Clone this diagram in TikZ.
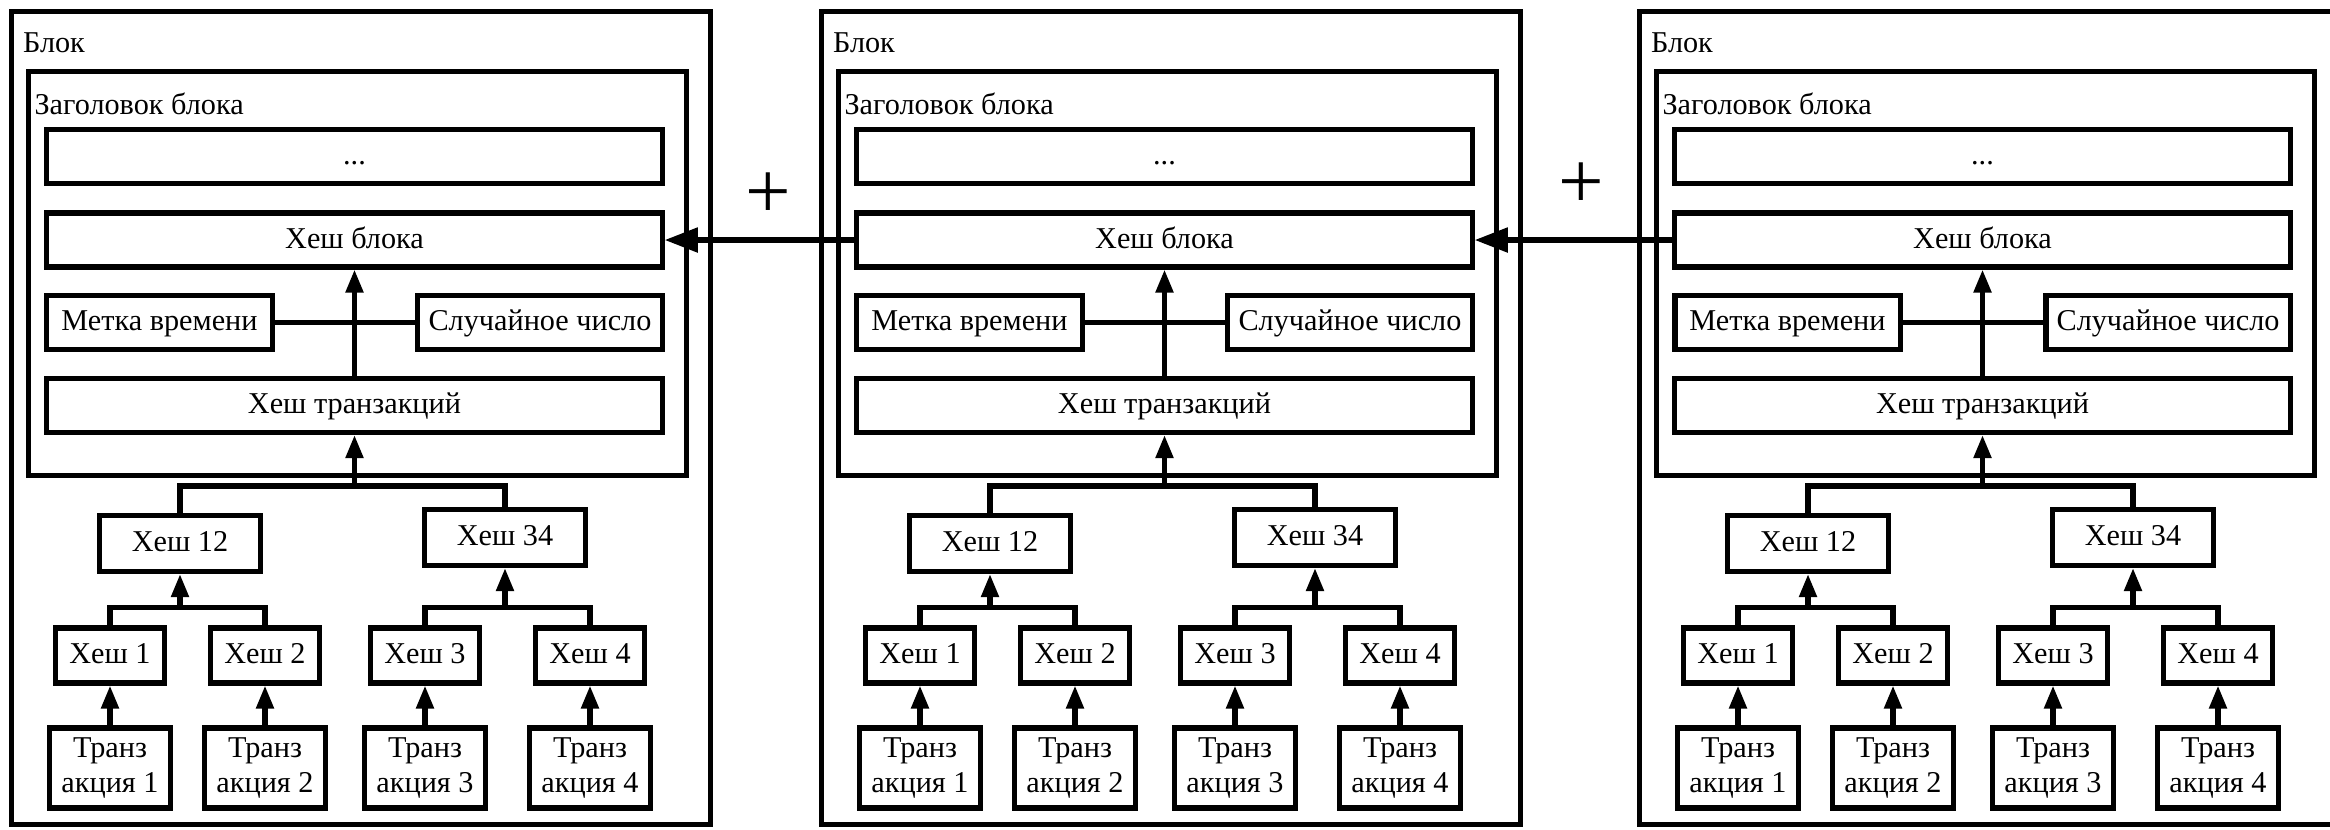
\documentclass[tikz,border=0pt]{standalone}
\usepackage{fontspec}
\setmainfont{Liberation Serif}
\usetikzlibrary{arrows.meta}

\begin{document}
\begin{tikzpicture}[x=0.01cm, y=-0.01cm, line width=1.45pt,
    font=\fontsize{8.6}{9.7}\selectfont,
    frame/.style={draw, inner sep=0pt},
    box/.style={frame, text height=6.1pt, text depth=1.4pt},
    txbox/.style={frame, align=center, minimum width=1.21cm, minimum height=0.8cm},
    uparr/.style={-{Triangle[length=0.23cm, width=0.17cm]}},
    linkarr/.style={-{Triangle[length=0.33cm, width=0.24cm]}},
    caption/.style={anchor=base west, inner sep=0pt}]
    \useasboundingbox (0,0) rectangle (2330,829);
    \def\bw{6.15cm}
    \def\bh{0.54cm}
    \foreach \b/\L in {1/12, 2/822, 3/1640}{
        % block and its header
        \node[frame, minimum width=6.98cm, minimum height=8.12cm] (blk\b) at (\L+349, 418) {};
        \node[caption] (blklbl\b) at (\L+8.5, 52) {Блок};
        \node[frame, minimum width=6.57cm, minimum height=4.03cm] (hdr\b) at (\L+345.5, 273.5) {};
        \node[caption] (hdrlbl\b) at (\L+20, 114) {Заголовок блока};
        % header fields
        \node[box, minimum width=\bw, minimum height=\bh] (dots\b) at (\L+342.5, 156.5) {...};
        \node[box, minimum width=\bw, minimum height=\bh] (bhash\b) at (\L+342.5, 240) {Хеш блока};
        \node[box, minimum width=2.25cm, minimum height=\bh] (time\b) at (\L+147.5, 322.5) {Метка времени};
        \node[box, minimum width=2.44cm, minimum height=\bh] (nonce\b) at (\L+528, 322.5) {Случайное число};
        \node[box, minimum width=\bw, minimum height=\bh] (txh\b) at (\L+342.5, 405.5) {Хеш транзакций};
        \draw (time\b) -- (nonce\b);
        \draw[uparr] (txh\b) -- (bhash\b);
        % hash tree
        \node[box, minimum width=1.61cm, minimum height=0.56cm] (hl\b) at (\L+168, 543.5) {Хеш 12};
        \node[box, minimum width=1.61cm, minimum height=0.56cm] (hr\b) at (\L+493, 537.5) {Хеш 34};
        \foreach \i/\x in {1/98, 2/253, 3/413, 4/578}{
            \node[box, minimum width=1.09cm, minimum height=0.55cm] (hs\i\b) at (\L+\x, 655.5) {Хеш \i};
            \node[txbox] (tx\i\b) at (\L+\x, 768) {Транз\\акция \i};
            \draw[uparr] (tx\i\b) -- (hs\i\b);
        }
        \path (hs1\b.north) ++(0,-18) coordinate (jl\b);
        \draw (hs1\b.north) -- (jl\b) -| (hs2\b.north);
        \draw[uparr] (hl\b.south |- jl\b) -- (hl\b.south);
        \path (hs3\b.north) ++(0,-18) coordinate (jr\b);
        \draw (hs3\b.north) -- (jr\b) -| (hs4\b.north);
        \draw[uparr] (hr\b.south |- jr\b) -- (hr\b.south);
        \path (hl\b.north) ++(0,-27) coordinate (jt\b);
        \draw (hl\b.north) -- (jt\b) -| (hr\b.north);
        \draw[uparr] (txh\b.south |- jt\b) -- (txh\b.south);
    }
    % links between blocks
    \draw[linkarr] (bhash2.west) -- (bhash1.east);
    \draw[linkarr] (bhash3.west) -- (bhash2.east);
    \node (plus1) at (768, 196) {\fontsize{23}{23}\selectfont +};
    \node (plus2) at (1581, 186) {\fontsize{23}{23}\selectfont +};
\end{tikzpicture}
\end{document}
